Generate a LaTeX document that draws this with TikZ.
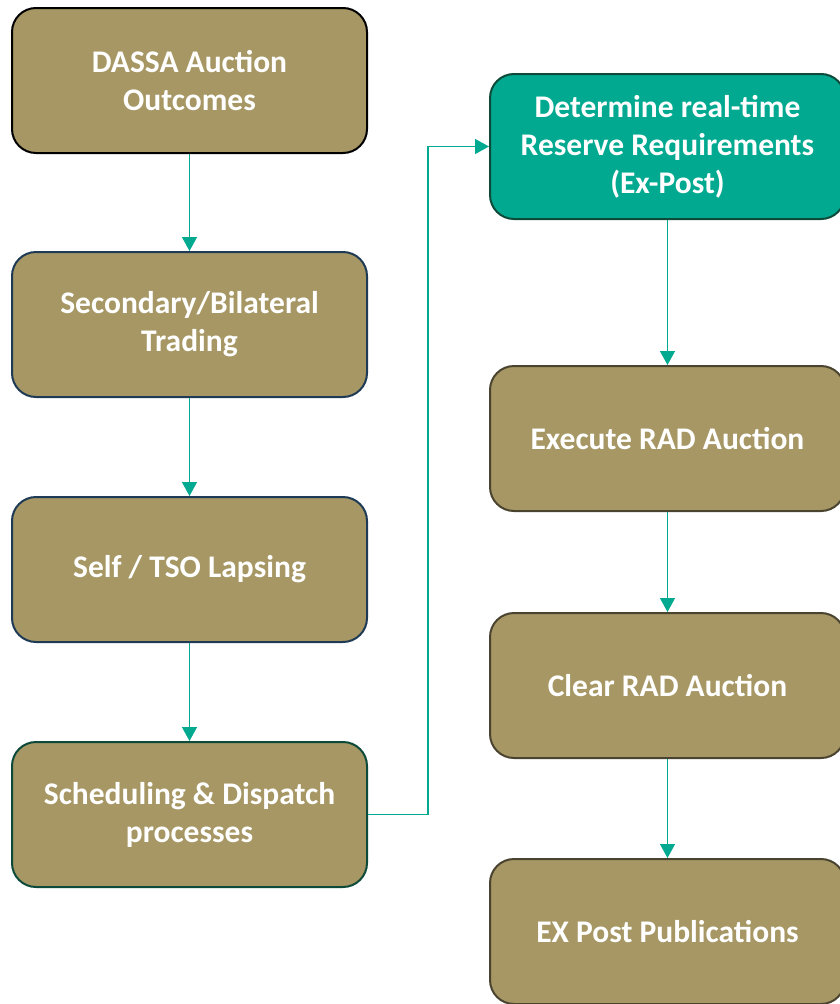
\documentclass[tikz,border=0pt]{standalone}
\usepackage{fontspec}
\setmainfont{Carlito}
\usetikzlibrary{positioning,arrows.meta}

\definecolor{boxfill}{HTML}{A69764}
\definecolor{flowteal}{HTML}{00A98F}
\definecolor{edgeblue}{HTML}{1F3A55}
\definecolor{edgegreen}{HTML}{0E4A3A}
\definecolor{edgebrown}{HTML}{4A4330}

\tikzset{
    stepbox/.style={draw, line width=2pt, rounded corners=24pt, fill=boxfill,
        text=white, font=\bfseries\fontsize{31.5}{38}\selectfont, align=center,
        minimum width=355pt, minimum height=145pt},
    flow/.style={draw=flowteal, line width=1.3pt,
        -{Triangle[width=15pt,length=14pt]}}
}

\begin{document}
\begin{tikzpicture}
    \useasboundingbox (0,0) rectangle (840pt,-1004pt);

    % left column
    \node[stepbox, draw=black] (dassa) at (189.5pt,-80.5pt) {DASSA Auction\\Outcomes};
    \node[stepbox, draw=edgeblue, below=97pt of dassa] (trading) {Secondary/Bilateral\\Trading};
    \node[stepbox, draw=edgeblue, below=98pt of trading] (lapsing) {Self / TSO Lapsing};
    \node[stepbox, draw=edgegreen, below=98pt of lapsing] (dispatch) {Scheduling \& Dispatch\\processes};

    % right column
    \node[stepbox, draw=edgegreen, fill=flowteal] (reserve) at (667.5pt,-146.5pt)
        {Determine real-time\\Reserve Requirements\\(Ex-Post)};
    \node[stepbox, draw=edgebrown, below=145pt of reserve] (execute) {Execute RAD Auction};
    \node[stepbox, draw=edgebrown, below=100pt of execute] (clear) {Clear RAD Auction};
    \node[stepbox, draw=edgebrown, below=99pt of clear] (publish) {EX Post Publications};

    \draw[flow] (dassa) -- (trading);
    \draw[flow] (trading) -- (lapsing);
    \draw[flow] (lapsing) -- (dispatch);
    \draw[flow] (dispatch.east) -- ++(60pt,0) |- (reserve.west);
    \draw[flow] (reserve) -- (execute);
    \draw[flow] (execute) -- (clear);
    \draw[flow] (clear) -- (publish);
\end{tikzpicture}
\end{document}
